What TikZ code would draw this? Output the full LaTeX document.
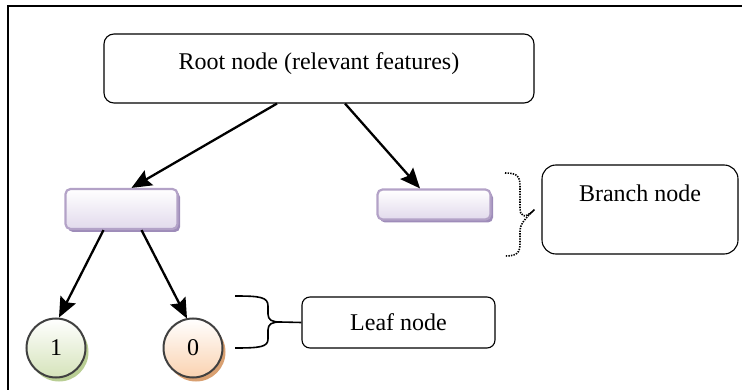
\documentclass[tikz,border=0pt]{standalone}
\usepackage{fontspec}
\setmainfont{Liberation Serif}
\usetikzlibrary{arrows.meta,shadows,calc}

\definecolor{lavline}{HTML}{B3A2C7}
\definecolor{lavfill}{HTML}{E2DAEC}
\definecolor{lavshadow}{HTML}{9E8CB9}
\definecolor{leafgreen}{HTML}{D5E3BA}
\definecolor{leafgreenshadow}{HTML}{B9CE94}
\definecolor{leaforange}{HTML}{FAD2B0}
\definecolor{leaforangeshadow}{HTML}{D9A071}
\definecolor{ringgray}{HTML}{404040}

\tikzset{
  labelfont/.style={font=\fontsize{24}{28}\selectfont},
  textbox/.style={draw=black, line width=1.1pt, fill=white, inner sep=0pt},
  branchbox/.style={draw=lavline, line width=2.2pt, rounded corners=5pt,
    top color=white, bottom color=lavfill, inner sep=0pt,
    drop shadow={shadow xshift=2.5pt, shadow yshift=-3pt, fill=lavshadow, opacity=1}},
  leafcircle/.style={circle, draw=ringgray, line width=2pt, minimum size=59pt,
    inner sep=0pt, labelfont},
  greenleaf/.style={leafcircle, top color=white, bottom color=leafgreen,
    drop shadow={shadow xshift=3pt, shadow yshift=-4pt, fill=leafgreenshadow, opacity=1}},
  orangeleaf/.style={leafcircle, top color=white, bottom color=leaforange,
    drop shadow={shadow xshift=3pt, shadow yshift=-4pt, fill=leaforangeshadow, opacity=1}},
  treearrow/.style={line width=2.3pt, -{Stealth[length=20pt,width=17pt,inset=3pt]}},
  bracket/.style={line width=1.6pt}
}

\begin{document}
\begin{tikzpicture}[x=1pt, y=-1pt]
  \useasboundingbox (0,0) rectangle (742,390);

  % outer frame (top and left edges)
  \draw[line width=2pt] (8,390) -- (8,6) -- (742,6);

  % root of the tree
  \node[textbox, rounded corners=10pt, minimum width=430pt, minimum height=69pt]
    (root) at (319,68.5) {};
  \node[labelfont] (roottext) at ([yshift=5pt]root.center) {Root node (relevant features)};

  % branch nodes
  \node[branchbox, minimum width=112pt, minimum height=40pt] (bl) at (121.5,209) {};
  \node[branchbox, minimum width=113pt, minimum height=30pt] (br) at (434,204.5) {};

  % leaves
  \node[greenleaf] (l1) at (56,348) {1};
  \node[orangeleaf] (l0) at (193,348) {0};

  % edges of the tree
  \draw[treearrow] ([xshift=-42pt]root.south) -- ([xshift=10pt]bl.north);
  \draw[treearrow] ([xshift=26pt]root.south) -- ([xshift=-14pt]br.north);
  \draw[treearrow] ([xshift=-18pt]bl.south) -- ([xshift=3pt]l1.north);
  \draw[treearrow] ([xshift=20pt]bl.south) -- ([xshift=-6pt,yshift=-1pt]l0.north);

  % legend boxes
  \node[textbox, rounded corners=14pt, minimum width=196pt, minimum height=89pt]
    (branchlegend) at (640,209.5) {};
  \node[labelfont] (branchtext) at ([yshift=16pt]branchlegend.center) {Branch node};

  \node[textbox, rounded corners=8pt, minimum width=193pt, minimum height=51pt]
    (leaflegend) at (398.5,322.5) {};
  \node[labelfont] (leaftext) at (leaflegend.center) {Leaf node};

  % dotted brace grouping the branch nodes
  \coordinate (btip) at ([xshift=-7pt]branchlegend.west);
  \draw[bracket, line width=1.6pt, dash pattern=on 1.4pt off 1.2pt]
    (505,173) .. controls (517,173) and (520,176) .. (520,186)
    -- (520,208) .. controls (520,216) and (524,220) .. (btip)
    .. controls (524,220) and (520,224) .. (520,232)
    -- (520,243) .. controls (520,253) and (517,256) .. (505,256);

  % solid brace grouping the leaves
  \draw[bracket]
    (235,296) .. controls (260,296) and (268,297) .. (268,306)
    -- (268,314) .. controls (268,320) and (272,322) .. (280,322)
    -- (leaflegend.west);
  \draw[bracket]
    (280,322) .. controls (272,322) and (268,324) .. (268,330)
    -- (268,339) .. controls (268,347) and (260,348) .. (235,348);
\end{tikzpicture}
\end{document}
